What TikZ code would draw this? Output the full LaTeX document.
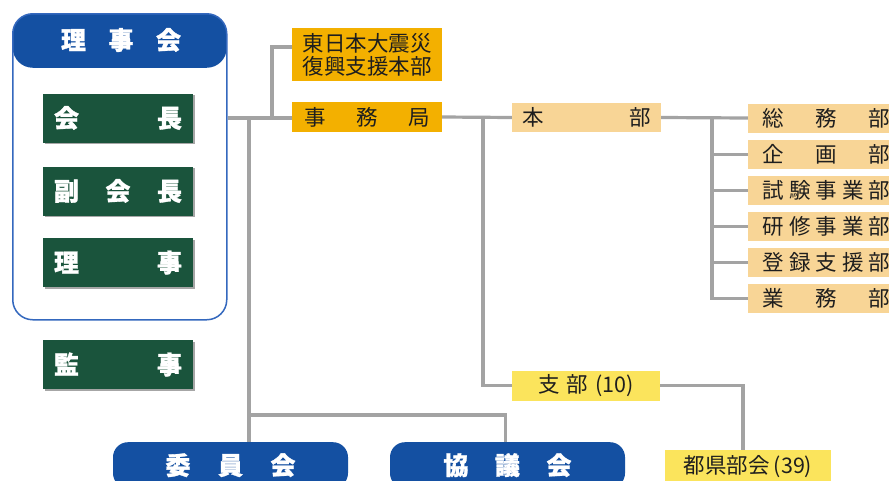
\documentclass[tikz,border=0pt]{standalone}
\usepackage{fontspec}
\newfontfamily\jp{Noto Sans CJK JP}[BoldFeatures={FakeBold=1.2}]
\usetikzlibrary{shadows,backgrounds}
\definecolor{hblue}{RGB}{20,80,162}
\definecolor{fblue}{RGB}{52,104,190}
\definecolor{dgreen}{RGB}{26,84,60}
\definecolor{orng}{RGB}{243,176,0}
\definecolor{lorng}{RGB}{248,213,150}
\definecolor{ylw}{RGB}{251,228,92}
\definecolor{lgray}{RGB}{163,163,163}
\definecolor{ink}{RGB}{30,30,30}
\newcommand\sprd[2]{\makebox[#1][s]{#2}}
\tikzset{
  wfont/.style={font=\jp\bfseries\fontsize{25}{27}\selectfont},
  greenbox/.style={fill=dgreen, text=white, wfont,
    minimum width=150pt, minimum height=49pt, inner sep=0pt,
    drop shadow={shadow xshift=1.5pt, shadow yshift=-1.5pt, opacity=.35, fill=black}},
  bluebox/.style={fill=hblue, text=white, wfont,
    minimum width=235pt, minimum height=46pt, inner sep=0pt, rounded corners=15pt, anchor=north},
  obox/.style={fill=orng, text=ink, font=\jp\fontsize{21.5}{23}\selectfont, inner sep=0pt},
  lbox/.style={fill=lorng, text=ink, font=\jp\fontsize{21.5}{23}\selectfont, inner sep=0pt,
    minimum height=29pt},
  ybox/.style={fill=ylw, text=ink, font=\jp\fontsize{21.5}{23}\selectfont, inner sep=0pt},
  conn/.style={draw=lgray, line width=3.2pt},
}
\begin{document}
\begin{tikzpicture}[x=1pt, y=-1pt]
\useasboundingbox (0,0) rectangle (889,480);
% board frame
\node[draw=fblue, line width=1.5pt, rounded corners=20pt, minimum width=214pt, minimum height=306pt,
  inner sep=0pt, anchor=north west,
  path picture={\fill[hblue] ([yshift=2pt]path picture bounding box.north west) rectangle ([yshift=-54pt]path picture bounding box.north east);}]
  (board) at (12,13) {};
\node[text=white, wfont, inner sep=0pt] (hdr) at (121,40) {\sprd{120pt}{理\hfill 事\hfill 会}};
% green boxes
\node[greenbox] (kaicho) at (118,118) {\sprd{128pt}{会\hfill 長}};
\node[greenbox] (fuku) at (118,191) {\sprd{128pt}{副\hfill 会\hfill 長}};
\node[greenbox] (riji) at (118,262.5) {\sprd{128pt}{理\hfill 事}};
\node[greenbox] (kanji) at (118,364.5) {\sprd{128pt}{監\hfill 事}};
% orange boxes
\node[obox, minimum width=150pt, minimum height=53pt, align=left] (fukko) at (367,54.5) {東日本大震災\\復興支援本部};
\node[obox, minimum width=150pt, minimum height=30pt] (jimu) at (367,117) {\sprd{126pt}{事\hfill 務\hfill 局}};
\node[lbox, minimum width=149pt] (honbu) at (586.5,117.5) {\sprd{128pt}{本\hfill 部}};
% right boxes
\node[lbox, minimum width=157pt] (somu) at (826.5,118) {\sprd{128pt}{総\hfill 務\hfill 部}};
\node[lbox, minimum width=157pt] (kikaku) at (826.5,154.5) {\sprd{128pt}{企\hfill 画\hfill 部}};
\node[lbox, minimum width=157pt] (shiken) at (826.5,190.5) {\sprd{128pt}{試\hfill 験\hfill 事\hfill 業\hfill 部}};
\node[lbox, minimum width=157pt] (kenshu) at (826.5,226.5) {\sprd{128pt}{研\hfill 修\hfill 事\hfill 業\hfill 部}};
\node[lbox, minimum width=157pt] (toroku) at (826.5,262.5) {\sprd{128pt}{登\hfill 録\hfill 支\hfill 援\hfill 部}};
\node[lbox, minimum width=157pt] (gyomu) at (826.5,298.5) {\sprd{128pt}{業\hfill 務\hfill 部}};
% branch
\node[ybox, minimum width=148pt, minimum height=30pt] (shibu) at (586,385.5) {支\hspace{7pt}部\hspace{7pt}(10)};
\node[ybox, minimum width=166pt, minimum height=32pt, anchor=north] (token) at (748,450) {都県部会\hspace{4pt}(39)};
% bottom blue boxes
\node[bluebox] (iin) at (230.5,442) {\sprd{130pt}{委\hfill 員\hfill 会}};
\node[bluebox] (kyogi) at (507.5,442) {\sprd{128pt}{協\hfill 議\hfill 会}};
% connectors
\coordinate (j1) at (272,118);
\coordinate (j2) at (249,118);
\coordinate (j3) at (483,118);
\coordinate (j4) at (712,118);
\coordinate (j5) at (249,415);
\begin{scope}[on background layer]
\fill[white] (0,0) rectangle (889,480);
\draw[conn] (board.east |- kaicho.center) -- (jimu.west |- kaicho.center);
\draw[conn] ([yshift=7.5pt]fukko.west) -| (j1);
\draw[conn] (j2) -- (j2 |- iin.north);
\draw[conn] (j5) -| ([xshift=-2pt]kyogi.north);
\draw[conn] (jimu.east) -- (honbu.west);
\draw[conn] (j3) |- (shibu.west);
\draw[conn] (shibu.east) -| ([xshift=-5pt]token.north);
\draw[conn] (honbu.east) -- (somu.west);
\draw[conn] (j4) |- (kikaku.west);
\draw[conn] (j4) |- (shiken.west);
\draw[conn] (j4) |- (kenshu.west);
\draw[conn] (j4) |- (toroku.west);
\draw[conn] (j4) |- (gyomu.west);
\end{scope}
\end{tikzpicture}
\end{document}
